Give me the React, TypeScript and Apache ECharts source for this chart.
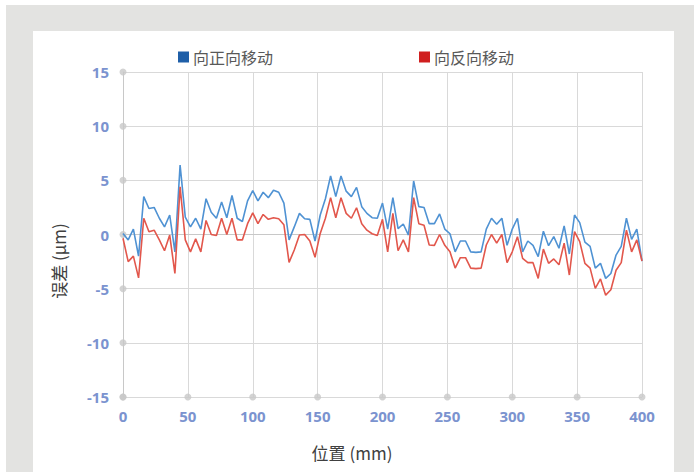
import React, { useEffect, useRef } from "react";
import * as echarts from "echarts";

const positions = [
  0, 4, 8, 12, 16, 20, 24, 28, 32, 36, 40, 44, 48, 52, 56, 60, 64, 68, 72, 76,
  80, 84, 88, 92, 96, 100, 104, 108, 112, 116, 120, 124, 128, 132, 136, 140, 144, 148, 152, 156,
  160, 164, 168, 172, 176, 180, 184, 188, 192, 196, 200, 204, 208, 212, 216, 220, 224, 228, 232, 236,
  240, 244, 248, 252, 256, 260, 264, 268, 272, 276, 280, 284, 288, 292, 296, 300, 304, 308, 312, 316,
  320, 324, 328, 332, 336, 340, 344, 348, 352, 356, 360, 364, 368, 372, 376, 380, 384, 388, 392, 396,
  400,
];

const forwardErr = [
  0.1, -0.5, 0.5, -2.0, 3.5, 2.4, 2.5, 1.5, 0.7, 1.8, -1.6, 6.4, 1.6, 0.7, 1.5, 0.5, 3.3, 2.05, 1.5, 3.0,
  1.55, 3.6, 1.5, 1.2, 3.1, 4.05, 3.1, 3.9, 3.4, 4.08, 3.9, 2.9, -0.5, 0.7, 1.95, 1.45, 1.4, -0.6, 1.8, 3.3,
  5.4, 3.5, 5.4, 4.0, 3.5, 4.35, 2.57, 1.95, 1.55, 1.5, 2.9, 0.5, 3.4, 0.55, 0.97, -0.05, 4.94, 2.57, 2.5, 1.0,
  1.0, 1.9, 0.5, 0.07, -1.6, -0.6, -0.6, -1.6, -1.65, -1.6, 0.5, 1.5, 0.94, 1.5, -1.0, 0.5, 1.5, -1.6, -0.6, -1.0,
  -2.05, 0.3, -1.03, -0.2, -1.27, 0.8, -1.8, 1.8, 1.1, -0.7, -1.1, -3.1, -2.66, -4.05, -3.6, -1.9, -1.1, 1.5, -0.45, 0.5,
  -2.45,
];

const backwardErr = [
  -0.35, -2.5, -2.0, -4.0, 1.5, 0.26, 0.4, -0.5, -1.5, -0.05, -3.6, 4.4, -0.5, -1.6, -0.4, -1.6, 1.3, 0, -0.1, 1.5,
  0, 1.5, -0.5, -0.5, 1.0, 2.0, 1.0, 1.85, 1.4, 1.55, 1.45, 0.9, -2.57, -1.43, -0.05, 0, -0.6, -2.1, 0.1, 1.5,
  3.4, 1.55, 3.4, 1.95, 1.5, 2.47, 1.0, 0.4, 0.07, -0.1, 1.4, -1.6, 1.95, -1.5, -0.5, -1.6, 3.4, 1.0, 0.85, -0.97,
  -1.0, 0, -1.0, -1.6, -3.1, -2.14, -2.14, -3.1, -3.15, -3.1, -0.97, 0, -0.8, 0, -2.6, -1.6, -0.2, -2.2, -2.6, -2.6,
  -4.05, -1.34, -2.66, -2.26, -2.8, -0.8, -3.74, 0.26, -0.66, -2.66, -3.1, -4.97, -4.1, -5.6, -5.1, -3.3, -2.6, 0.4, -1.6, -0.5,
  -2.45,
];

const yTicks = [-15, -10, -5, 0, 5, 10, 15];
const xTicks = [0, 50, 100, 150, 200, 250, 300, 350, 400];

const forwardName = "向正向移动";
const backwardName = "向反向移动";
const xTitle = "位置 (mm)";
const yTitle = "误差 (μm)";

export default function App() {
  const ref = useRef<HTMLDivElement>(null);

  useEffect(() => {
    if (!ref.current) return;
    const chart = echarts.init(ref.current, undefined, { renderer: "svg" });
    const labelStyle = {
      color: "#7b93cf",
      fontWeight: "bold" as const,
      fontSize: 15,
      fontFamily: "Open Sans",
    };
    const titleFont = "'Noto Sans CJK SC', 'Noto Sans', sans-serif";
    const dots = [
      ...yTicks.map((v) => [xTicks[0], v]),
      ...xTicks.map((v) => [v, yTicks[0]]),
    ];
    const legendBase = {
      top: 49,
      padding: 0,
      icon: "rect",
      itemWidth: 11,
      itemHeight: 11,
      textStyle: { color: "#595959", fontSize: 16, fontFamily: titleFont, padding: [0, 0, 0, -1] },
    };
    chart.setOption({
      animation: false,
      graphic: [
        {
          type: "text",
          x: 58,
          y: 261,
          rotation: Math.PI / 2,
          style: {
            text: yTitle,
            fontSize: 17,
            fontFamily: titleFont,
            fill: "#404040",
            textAlign: "center",
            textVerticalAlign: "middle",
          },
        },
        {
          type: "text",
          x: 352,
          y: 452,
          style: {
            text: xTitle,
            fontSize: 17,
            fontFamily: titleFont,
            fill: "#404040",
            textAlign: "center",
            textVerticalAlign: "middle",
          },
        },
      ],
      legend: [
        {
          ...legendBase,
          left: 178,
          data: [{ name: forwardName, itemStyle: { color: "#1f5fa8" } }],
        },
        {
          ...legendBase,
          left: 419,
          data: [{ name: backwardName, itemStyle: { color: "#d01f1f" } }],
        },
      ],
      grid: { left: 123, right: 52, top: 72, bottom: 75, containLabel: false },
      xAxis: {
        type: "value",
        min: 0,
        max: 400,
        interval: 50,
        axisLine: { show: true, lineStyle: { color: "#c8c8c8", width: 1 } },
        axisTick: { show: false },
        splitLine: { show: true, lineStyle: { color: "#d9d9d9", width: 1 } },
        axisLabel: { ...labelStyle, margin: 11 },
      },
      yAxis: {
        type: "value",
        min: -15,
        max: 15,
        interval: 5,
        axisLine: { show: true, lineStyle: { color: "#c8c8c8", width: 1 } },
        axisTick: { show: false },
        splitLine: { show: true, lineStyle: { color: "#d9d9d9", width: 1 } },
        axisLabel: { ...labelStyle, margin: 14 },
      },
      series: [
        {
          type: "scatter",
          data: dots,
          symbol: "circle",
          symbolSize: 7,
          itemStyle: { color: "#c8c8c8" },
          silent: true,
          clip: false,
          z: 1,
        },
        {
          name: forwardName,
          type: "line",
          data: positions.map((x, i) => [x, forwardErr[i]]),
          symbol: "none",
          lineStyle: { color: "#4f92d3", width: 1.6 },
          itemStyle: { color: "#1f5fa8" },
          z: 3,
        },
        {
          name: backwardName,
          type: "line",
          data: positions.map((x, i) => [x, backwardErr[i]]),
          symbol: "none",
          lineStyle: { color: "#e2574c", width: 1.6 },
          itemStyle: { color: "#d01f1f" },
          z: 4,
        },
      ],
    });
    return () => chart.dispose();
  }, []);

  return (
    <div style={{ position: "absolute", left: 0, top: 0, width: 694, height: 472, background: "#ffffff" }}>
      <div style={{ position: "absolute", left: 6, top: 5, width: 688, height: 467, background: "#e3e3e1" }} />
      <div style={{ position: "absolute", left: 33, top: 31, width: 641, height: 441, background: "#ffffff" }} />
      <div ref={ref} style={{ position: "absolute", left: 0, top: 0, width: 694, height: 472 }} />
    </div>
  );
}
